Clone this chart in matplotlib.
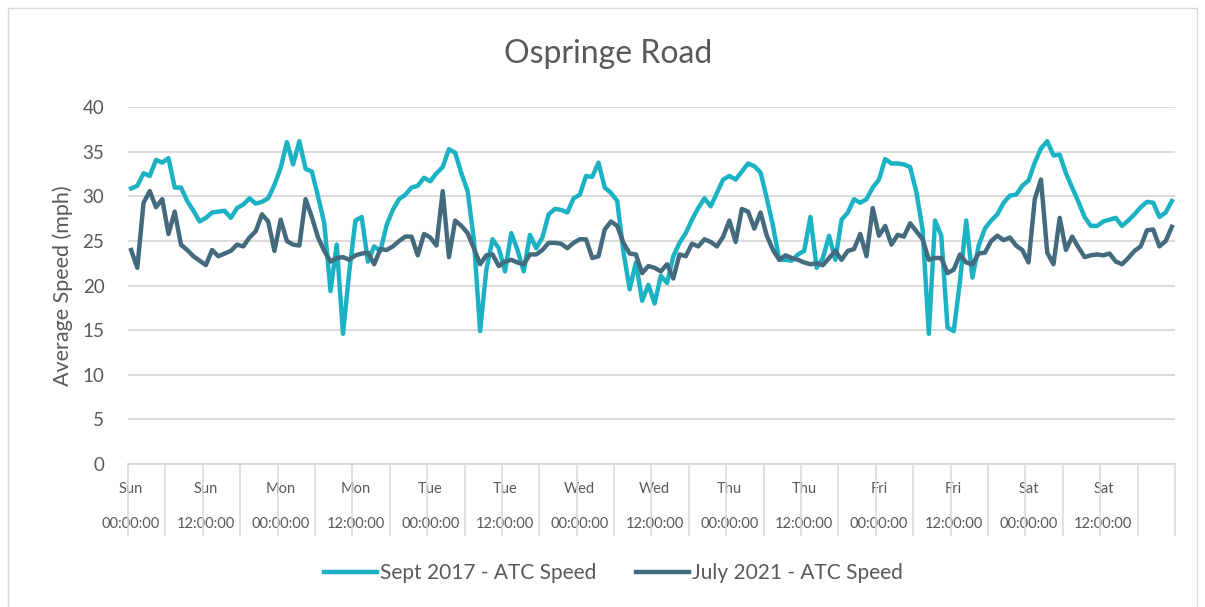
import matplotlib.pyplot as plt
import matplotlib.patches as mpatches
import numpy as np

# hourly average speed, Sun 00:00 -> Sat 23:00
sept_2017 = [
    30.9, 31.2, 32.6, 32.3, 34.1, 33.8, 34.3, 31.0, 31.0, 29.5,
    28.4, 27.2, 27.6, 28.2, 28.3, 28.4, 27.6, 28.7, 29.1, 29.8,
    29.2, 29.4, 29.8, 31.3, 33.2, 36.1, 33.6, 36.2, 33.1, 32.8,
    30.0, 27.0, 19.4, 24.6, 14.6, 21.5, 27.3, 27.7, 22.7, 24.4,
    23.9, 26.8, 28.5, 29.7, 30.2, 31.0, 31.2, 32.1, 31.7, 32.6,
    33.3, 35.3, 34.9, 32.6, 30.6, 25.2, 14.9, 21.8, 25.2, 24.2,
    21.6, 25.9, 24.0, 21.6, 25.7, 24.2, 25.4, 28.0, 28.6, 28.5,
    28.2, 29.8, 30.2, 32.3, 32.2, 33.8, 31.0, 30.4, 29.5, 23.8,
    19.6, 22.6, 18.3, 20.1, 18.0, 21.1, 20.3, 23.3, 24.8, 25.9,
    27.4, 28.7, 29.8, 28.9, 30.4, 31.9, 32.3, 31.9, 32.8, 33.7,
    33.4, 32.7, 29.8, 26.7, 22.9, 22.9, 22.8, 23.5, 23.9, 27.7,
    22.0, 23.1, 25.6, 22.9, 27.4, 28.2, 29.7, 29.3, 29.7, 31.0,
    31.9, 34.2, 33.7, 33.7, 33.6, 33.3, 30.5, 26.3, 14.6, 27.3,
    25.6, 15.3, 14.9, 20.5, 27.3, 20.9, 24.5, 26.4, 27.3, 28.0,
    29.3, 30.1, 30.2, 31.2, 31.8, 33.8, 35.4, 36.2, 34.6, 34.7,
    32.6, 31.0, 29.4, 27.7, 26.7, 26.7, 27.2, 27.4, 27.6, 26.7,
    27.3, 28.0, 28.8, 29.4, 29.3, 27.7, 28.2, 29.5,
]
july_2021 = [
    24.0, 22.0, 29.3, 30.6, 28.8, 29.7, 25.8, 28.3, 24.6, 24.0,
    23.3, 22.8, 22.3, 24.0, 23.3, 23.6, 23.9, 24.6, 24.4, 25.4,
    26.1, 28.0, 27.2, 23.9, 27.4, 25.0, 24.6, 24.5, 29.7, 27.7,
    25.4, 23.9, 22.7, 23.1, 23.2, 22.9, 23.4, 23.6, 23.7, 22.4,
    24.1, 24.0, 24.4, 25.0, 25.5, 25.5, 23.4, 25.8, 25.4, 24.5,
    30.6, 23.2, 27.3, 26.7, 25.9, 24.2, 22.4, 23.4, 23.5, 22.2,
    22.7, 22.9, 22.6, 22.4, 23.5, 23.5, 24.0, 24.8, 24.8, 24.7,
    24.2, 24.8, 25.2, 25.2, 23.1, 23.3, 26.3, 27.2, 26.7, 24.8,
    23.6, 23.5, 21.4, 22.2, 22.0, 21.6, 22.4, 20.8, 23.5, 23.3,
    24.7, 24.4, 25.2, 24.9, 24.4, 25.5, 27.3, 24.9, 28.6, 28.3,
    26.4, 28.2, 25.6, 24.0, 22.9, 23.4, 23.1, 22.9, 22.6, 22.4,
    22.5, 22.3, 23.1, 23.9, 22.9, 23.9, 24.1, 25.8, 23.3, 28.7,
    25.6, 26.7, 24.6, 25.7, 25.5, 27.0, 26.1, 25.2, 22.9, 23.1,
    23.1, 21.4, 21.8, 23.5, 22.6, 22.4, 23.6, 23.7, 25.0, 25.6,
    25.1, 25.4, 24.5, 24.0, 22.6, 29.7, 31.9, 23.7, 22.4, 27.6,
    24.0, 25.5, 24.3, 23.2, 23.4, 23.5, 23.4, 23.6, 22.7, 22.4,
    23.1, 23.9, 24.4, 26.2, 26.3, 24.4, 25.0, 26.6,
]
days = ['Sun', 'Mon', 'Tue', 'Wed', 'Thu', 'Fri', 'Sat']
times = ['00:00:00', '12:00:00']
tick_labels = [d + '\n\n' + t for d in days for t in times]

plt.rcParams['font.family'] = ['Lato', 'DejaVu Sans']
txt = '#595959'
grid = '#d9d9d9'

fig = plt.figure(figsize=(12.05, 6.07), dpi=100)
ax = fig.add_axes([0.1062, 0.2356, 0.8689, 0.5876])

x = np.arange(len(sept_2017))
ax.plot(x, sept_2017, color='#1bb3c4', lw=3.2, solid_joinstyle='round',
        label='Sept 2017 - ATC Speed', zorder=3)
ax.plot(x, july_2021, color='#446b7d', lw=3.2, solid_joinstyle='round',
        label='July 2021 - ATC Speed', zorder=4)

ax.set_xlim(-0.5, len(x) - 0.5)
ax.set_ylim(0, 40)
ax.set_yticks(range(0, 41, 5))
ax.grid(axis='y', color=grid, lw=1.3)
ax.set_axisbelow(True)
for s in ['top', 'left', 'right']:
    ax.spines[s].set_visible(False)
ax.spines['bottom'].set_color(grid)
ax.spines['bottom'].set_linewidth(1.3)

ax.set_xticks(np.arange(0, len(x), 12))
ax.set_xticklabels(tick_labels, linespacing=1.3)
ax.set_xticks(np.arange(-0.5, len(x), 6), minor=True)
ax.tick_params(axis='x', which='major', length=0, pad=13, labelsize=10.5, labelcolor=txt)
ax.tick_params(axis='x', which='minor', length=52, width=1.1, color=grid)
ax.tick_params(axis='y', length=0, pad=17, labelsize=13.5, labelcolor=txt)

ax.set_ylabel('Average Speed (mph)', fontsize=15.5, color=txt, labelpad=7)
fig.text(0.505, 0.911, 'Ospringe Road', ha='center', va='center', fontsize=23, color=txt)

fig.legend(loc='center', bbox_to_anchor=(0.509, 0.056), ncol=2, frameon=False,
           fontsize=15, labelcolor=txt, handlelength=2.55, handletextpad=0.15,
           columnspacing=1.9)

fig.patches.append(mpatches.Rectangle((8 / 1205, -0.01), 1189 / 1205, 599 / 607 + 0.01,
                                      transform=fig.transFigure, fill=False,
                                      edgecolor=grid, lw=1.0))

fig.savefig('out.png', dpi=100)
